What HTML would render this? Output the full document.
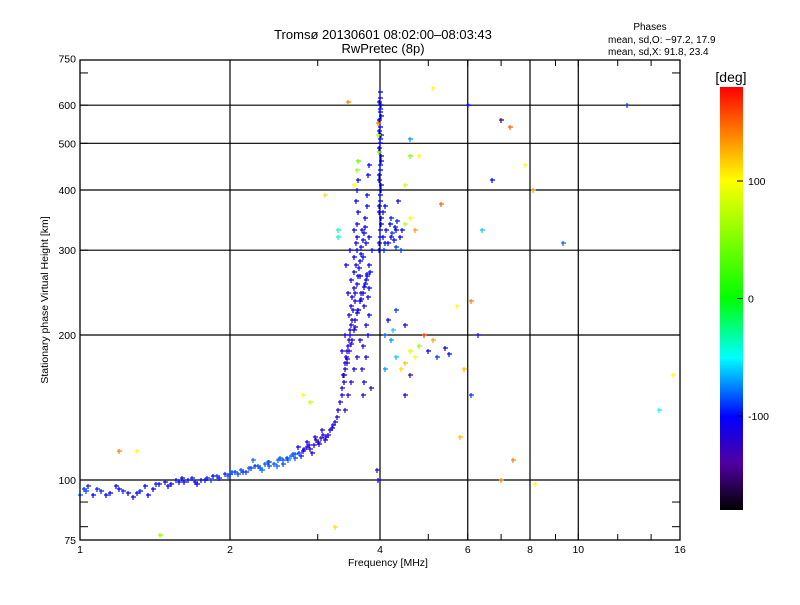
<!DOCTYPE html>
<html><head><meta charset="utf-8"><style>
body{margin:0;background:#fff;}
svg text{font-family:"Liberation Sans",sans-serif;font-size:10.5px;fill:#000;}
</style></head><body>
<svg id="c" width="800" height="600" xmlns="http://www.w3.org/2000/svg">
<defs><linearGradient id="cg" x1="0" y1="0" x2="0" y2="1">
<stop offset="0" stop-color="#ff0000"/><stop offset="0.11" stop-color="#ff8000"/><stop offset="0.22" stop-color="#ffff00"/><stop offset="0.36" stop-color="#80ff00"/><stop offset="0.5" stop-color="#00ff00"/><stop offset="0.64" stop-color="#00ffff"/><stop offset="0.78" stop-color="#0000ff"/><stop offset="0.89" stop-color="#5000a0"/><stop offset="1" stop-color="#000000"/>
</linearGradient></defs>
<text x="383" y="39" text-anchor="middle" style="font-size:13px">Tromsø 20130601 08:02:00–08:03:43</text>
<text x="383" y="53" text-anchor="middle" style="font-size:13px">RwPretec (8p)</text>
<text x="650" y="30" text-anchor="middle" style="font-size:10px">Phases</text>
<text x="608" y="43" style="font-size:10px">mean, sd,O: −97.2, 17.9</text>
<text x="608" y="55" style="font-size:10px">mean, sd,X:  91.8, 23.4</text>
<g id="grid"></g>
<g id="pts"></g>
<rect x="80" y="60" width="600" height="480" fill="none" stroke="#000" stroke-width="1.3"/>
<g id="axes"></g>
<text x="388" y="566" text-anchor="middle">Frequency [MHz]</text>
<text transform="translate(48,300) rotate(-90)" text-anchor="middle">Stationary phase Virtual Height [km]</text>
<rect x="720" y="87" width="23" height="423" fill="url(#cg)"/>
<text x="731" y="82" text-anchor="middle" style="font-size:14px">[deg]</text>
<g id="cb"></g>
</svg>
<script>
const freqs=[1.0,1.02,1.04,1.06,1.1,1.15,1.2,1.25,1.28,1.32,1.35,1.4,1.44,1.48,1.52,1.56,1.6,1.65,1.7,1.75,1.8,1.85,1.9,1.95,2.0,2.05,2.1,2.15,2.2,2.25,2.3,2.35,2.4,2.45,2.5,2.55,2.6,2.65,2.7,2.75,2.8,2.85,2.9,2.95,3.0,3.05,3.1,3.15,3.2,3.25,1.62,1.78,2.08,2.4,2.55,2.7,2.22,
3.3,3.35,3.38,3.4,3.42,3.45,3.48,3.5,3.46,3.5,3.52,3.55,3.5,3.55,3.58,3.55,3.6,3.58,3.6,3.55,3.6,3.62,3.58,3.6,3.62,3.6,3.62,3.55,3.7,3.72,3.68,3.75,3.7,3.78,3.75,3.8,3.72,3.78,3.8,3.75,3.82,3.8,3.85,3.75,3.8,3.4,3.45,3.5,3.55,3.6,3.65,3.4,3.35,3.62,3.66,3.45,3.65,3.42,3.7,3.48,3.68,3.3,
3.98,4.0,4.02,3.98,4.0,4.01,3.98,4.0,4.02,3.99,4.0,4.01,4.0,3.99,4.0,4.01,4.0,4.0,3.97,3.98,3.96,
4.1,4.2,4.3,4.4,4.5,4.6,4.35,4.7,4.5,4.8,
4.1,4.2,4.3,4.4,4.5,4.6,4.7,4.8,5.0,5.2,5.4,5.5,4.9,5.1,4.3,4.15,4.5,4.25,5.7,6.1,5.9,6.3,6.1,4.1,4.6,4.5,
7.0,7.3,6.7,7.8,8.1,5.1,4.6,3.45,3.3,1.2,1.3,1.45,2.8,3.25,7.0,7.4,8.2,6.4,12.5,15.5,14.5,9.3,5.8,6.0,4.6,2.9,3.95,3.97,3.1,5.3,
1.03,1.08,1.13,1.18,1.22,1.3,1.37,1.42,1.5,1.58,1.68,1.72,1.83,1.88,1.98,2.02,2.12,2.18,2.28,2.32,2.38,2.48,2.52,2.62,2.68,2.78,2.82,2.88,2.92,2.98,3.02,3.08,3.12,3.18,3.22,3.28,2.74,2.86,2.96,3.06,
3.32,3.36,3.39,3.41,3.44,3.47,3.49,3.51,3.53,3.56,3.57,3.59,3.61,3.63,3.64,3.66,3.67,3.69,3.71,3.73,3.74,3.76,3.77,3.79,3.81,3.83,3.37,3.43,3.47,3.52,3.54,3.57,3.61,3.64,3.69,3.73,3.77,3.44,3.5,3.56,3.6,3.66,3.71,3.76,
3.99,4.0,4.01,3.99,4.0,4.02,3.98,4.0,4.01,3.99,4.0,3.98,4.02,4.0,3.99,4.05,4.08,4.12,4.15,4.18,4.22,4.26,4.28,4.32,4.38,4.42,4.05,4.1,4.2,4.3];
const heights=[93,96,97,93,95,94,96,94,92,95,97,96,98,99,98,100,101,100,99,100,101,102,101,103,103,104,105,104,106,107,106,108,109,108,110,110,111,112,113,114,115,117,116,118,120,122,121,124,128,132,99,100,103,107,108,111,110,
140,150,160,170,180,190,200,210,220,230,240,250,260,270,280,290,300,310,320,330,340,360,380,400,420,440,460,410,150,160,170,180,190,200,210,220,230,240,250,260,270,280,300,310,320,140,150,160,170,180,195,200,185,225,245,245,265,280,290,300,330,330,
300,320,340,360,380,400,420,440,460,480,500,520,540,560,580,600,620,640,520,480,550,
310,320,330,300,340,350,380,330,410,470,
200,195,180,170,175,185,180,190,185,180,188,183,200,195,225,215,210,205,230,235,170,200,150,170,165,150,
560,540,420,450,400,650,470,610,320,115,115,77,150,80,100,110,98,330,600,165,140,310,123,600,510,145,105,100,390,375,
95,96,93,97,95,94,93,98,97,99,101,98,100,102,102,104,104,106,107,105,109,107,111,110,113,112,116,118,114,121,119,124,123,127,130,135,117,120,123,127,
145,155,165,175,185,195,205,215,225,235,245,255,265,275,285,295,305,315,325,335,350,370,390,430,450,155,165,175,185,195,205,215,225,235,245,255,265,178,192,208,222,238,252,268,
310,330,350,370,390,410,430,450,470,490,510,530,570,590,610,320,300,330,310,340,325,315,335,345,320,330,360,370,350,305];
const phases=[-80,-90,-95,-100,-95,-100,-100,-100,-100,-95,-100,-100,-100,-105,-100,-100,-100,-100,-105,-100,-95,-100,-95,-95,-90,-90,-85,-90,-90,-90,-85,-85,-80,-85,-80,-85,-90,-80,-85,-90,-100,-110,-115,-120,-115,-120,-110,-115,-110,-110,-100,-100,-85,-85,-85,-85,-80,
-110,-110,-115,-110,-110,-115,-110,-110,-110,-110,-110,-105,-110,-105,-110,-105,-100,-105,-100,-100,-105,-100,-105,-100,-100,60,40,100,-120,-115,-120,-110,-115,-105,-110,-100,-110,-105,-100,-100,-100,-100,-100,-100,-100,-120,-125,-120,-110,-115,-110,-115,-110,-110,-110,-105,-100,-100,-100,-105,-100,-40,
-100,-100,-100,-100,-100,-100,-100,-100,-100,-100,-100,-100,-100,-100,-100,-100,-110,-100,70,60,140,
-100,-105,-100,-90,70,100,-110,130,80,100,
-80,-70,-60,110,120,90,100,60,-100,-90,-110,-100,160,130,-90,-100,-110,-60,100,140,120,-110,-90,-70,-130,-110,
-150,150,-100,100,130,100,50,140,-40,140,100,60,100,110,140,140,100,-60,-90,100,-50,-80,120,-100,-70,80,-120,-110,110,150,
-85,-95,-100,-100,-95,-100,-100,-95,-100,-100,-95,-100,-90,-90,-85,-85,-90,-85,-85,-80,-85,-80,-85,-80,-85,-95,-115,-120,-110,-120,-115,-115,-120,-110,-110,-115,-100,-110,-120,-115,
-115,-120,-110,-115,-120,-110,-115,-110,-105,-110,-105,-110,-100,-105,-100,-100,-105,-100,-100,-100,-100,-100,-105,-100,-100,-125,-120,-115,-120,-115,-110,-110,-105,-105,-100,-100,-100,-120,-115,-110,-110,-105,-100,-100,
-100,-100,-100,-100,-100,-100,-100,-100,-100,-100,-100,-100,-100,-100,-100,-100,-95,-100,-105,-100,-90,-100,-105,-95,-100,-100,-110,-100,-95,-90];
const yTicks=[75,100,200,300,400,500,600,750];
const xTicks=[1,2,4,6,8,10,16];
const xGrid=[2,4,6,8,10];
const yGrid=[100,200,300,400,500,600];
const cbTicks=[100,0,-100];

const X=f=>80+150*Math.log2(f);
const Y=h=>480-145*Math.log2(h/100);
const CY=p=>298.5-p*(423/360);
const NS='http://www.w3.org/2000/svg';
function mk(tag,attrs,parent){const e=document.createElementNS(NS,tag);for(const k in attrs)e.setAttribute(k,attrs[k]);parent.appendChild(e);return e;}
const stops=[[180,[255,0,0]],[140,[255,128,0]],[100,[255,255,0]],[50,[128,255,0]],[0,[0,255,0]],[-50,[0,255,255]],[-100,[0,0,255]],[-140,[80,0,160]],[-180,[0,0,0]]];
function col(p){for(let i=0;i<stops.length-1;i++){const a=stops[i],b=stops[i+1];if(p<=a[0]&&p>=b[0]){const t=(a[0]-p)/(a[0]-b[0]);const c=a[1].map((v,j)=>Math.round(v+(b[1][j]-v)*t));return `rgb(${c})`;}}return p>0?'red':'black';}
const grid=document.getElementById('grid');
xGrid.forEach(f=>{const l=mk('line',{x1:X(f),x2:X(f),y1:60,y2:540,stroke:'#000','stroke-width':1.2},grid);

});
yGrid.forEach(h=>{const l=mk('line',{x1:80,x2:680,y1:Y(h),y2:Y(h),stroke:'#000','stroke-width':1.2},grid);

});
const axes=document.getElementById('axes');
xTicks.forEach(f=>{const t=mk('text',{x:X(f),y:553,'text-anchor':'middle'},axes);t.textContent=f;

});
yTicks.forEach(h=>{const t=mk('text',{x:76,y:Y(h)+4,'text-anchor':'end'},axes);t.textContent=h;

});
for(let f=1;f<=16;f+=(f<10?1:2)){[60,540].forEach((y,i)=>{mk('line',{x1:X(f),x2:X(f),y1:y,y2:i?y-6:y+6,stroke:'#000'},axes);});}
[80,90,100,200,300,400,500,600,700].forEach(h=>{[80,680].forEach((x,i)=>{mk('line',{x1:x,x2:i?x-8:x+8,y1:Y(h),y2:Y(h),stroke:'#000'},axes);});});
const pts=document.getElementById('pts');
for(let i=0;i<freqs.length;i++){const x=Math.round(X(freqs[i])),y=Math.round(Y(heights[i])),c=col(phases[i]);
const g=mk('path',{d:`M${x-2},${y}h5M${x},${y-2}v5`,stroke:c,'stroke-width':1.2,fill:'none'},pts);

}
const cb=document.getElementById('cb');
cbTicks.forEach(p=>{mk('line',{x1:743,x2:737,y1:CY(p),y2:CY(p),stroke:'#000'},cb);const t=mk('text',{x:748,y:CY(p)+4},cb);t.textContent=p;

});
</script>
</body></html>
